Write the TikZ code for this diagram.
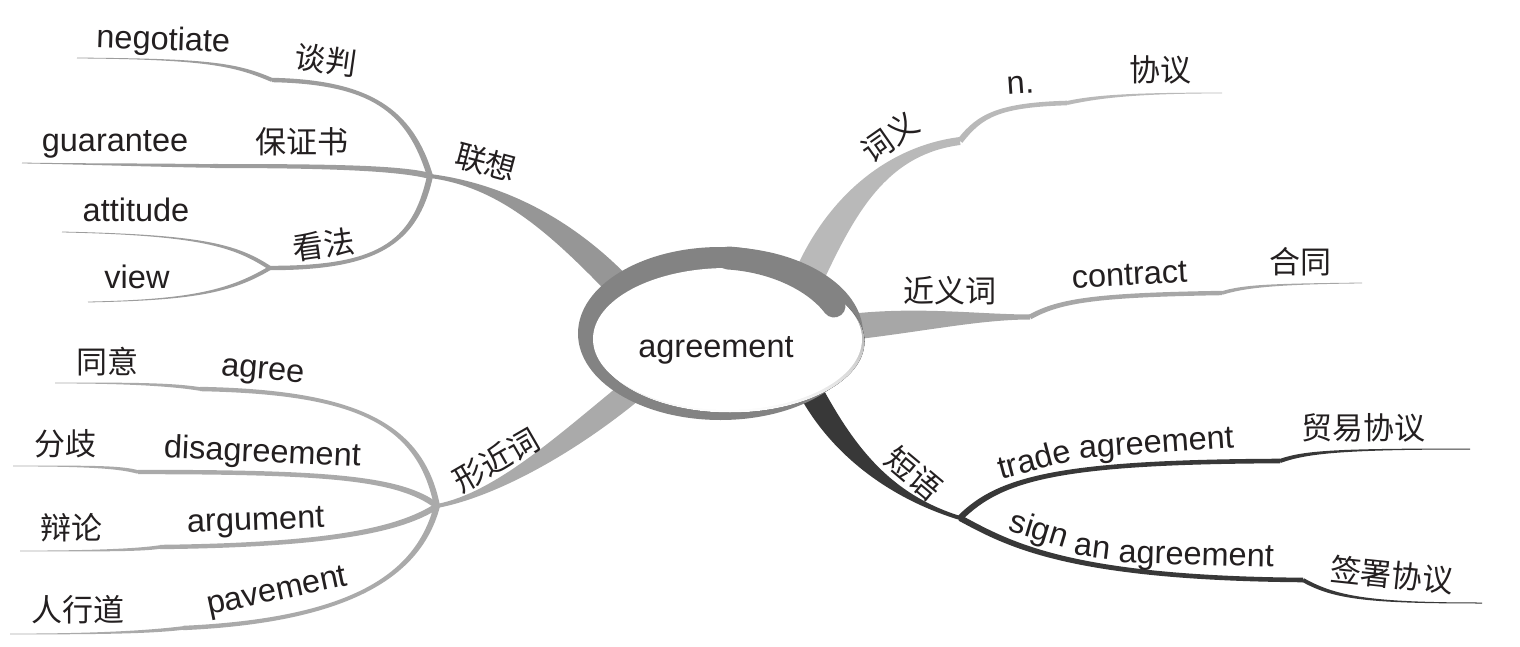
\documentclass[tikz,border=0pt]{standalone}
\usepackage{fontspec}
\setmainfont{Liberation Sans}
\newfontfamily\cjk{Noto Sans CJK SC}
\usetikzlibrary{calc}
\definecolor{txt}{HTML}{231F20}
\definecolor{ring}{HTML}{838383}
\definecolor{lxc}{HTML}{9D9D9D}
\definecolor{lxt}{HTML}{969696}
\definecolor{xjc}{HTML}{AAAAAA}
\definecolor{cyc}{HTML}{B9B9B9}
\definecolor{jyc}{HTML}{A7A7A7}
\definecolor{dyc}{HTML}{383838}
\definecolor{shade}{HTML}{C4C4C4}
\newcommand\tfont{\fontsize{32.5}{34}\selectfont}
% tapered cubic: P0, P1, P2, P3, half width at P0, half width at P3, colour
\newcommand\tap[7]{%
  \fill[#7] ($(#1)!#5!90:(#2)$) .. controls ($(#2)!#5!-90:(#1)$) and ($(#3)!#6!90:(#4)$) .. ($(#4)!#6!-90:(#3)$)
    -- ($(#4)!#6!90:(#3)$) .. controls ($(#3)!#6!-90:(#4)$) and ($(#2)!#5!90:(#1)$) .. ($(#1)!#5!-90:(#2)$) -- cycle;}
\begin{document}
\begin{tikzpicture}[x=1pt,y=-1pt,
  en/.style={font=\tfont, text=txt, inner sep=0pt, anchor=base},
  zh/.style={font=\cjk\fontsize{31}{33}\selectfont, text=txt, inner sep=0pt}]
\useasboundingbox (0,0) rectangle (1520,647);
% junctions and kinks
\coordinate (J1) at (430,176);
\coordinate (J2) at (437,506);
\coordinate (J3) at (960,518);
\coordinate (K1) at (272,80);
\coordinate (K2) at (213,166);
\coordinate (K3) at (270,268);
\coordinate (K4) at (200,389);
\coordinate (K5) at (138,472);
\coordinate (K6) at (160,547);
\coordinate (K7) at (183,628);
\coordinate (M1) at (960,141);
\coordinate (M2) at (1067,103);
\coordinate (M3) at (1030,317);
\coordinate (M4) at (1222,293);
\coordinate (M5) at (1280,461);
\coordinate (M6) at (1303,580);
% 联想
\tap{J1}{500,185}{560,225}{620,287}{2pt}{13pt}{lxt}
\tap{J1}{410,110}{370,82}{K1}{3pt}{2.2pt}{lxc}
\tap{K1}{235,64}{205,59}{77,58}{2pt}{0.4pt}{lxc}
\tap{J1}{400,168}{330,166}{K2}{3pt}{2pt}{lxc}
\tap{K2}{150,165}{80,164}{22,163}{1.8pt}{0.4pt}{lxc}
\tap{J1}{415,245}{375,268}{K3}{3pt}{2.2pt}{lxc}
\tap{K3}{235,245}{200,235}{62,232}{2pt}{0.4pt}{lxc}
\tap{K3}{230,292}{190,300}{88,302}{2pt}{0.4pt}{lxc}
% 形近词
\tap{J2}{495,495}{565,445}{630,392}{2pt}{12pt}{xjc}
\tap{J2}{420,420}{350,392}{K4}{3pt}{2.2pt}{xjc}
\tap{K4}{170,384}{120,383}{55,383}{1.8pt}{0.4pt}{xjc}
\tap{J2}{400,478}{330,472}{K5}{3pt}{2.2pt}{xjc}
\tap{K5}{120,467}{90,466}{13,466}{1.8pt}{0.4pt}{xjc}
\tap{J2}{400,530}{330,545}{K6}{3pt}{2.2pt}{xjc}
\tap{K6}{140,550}{100,551}{20,551}{1.8pt}{0.4pt}{xjc}
\tap{J2}{420,570}{360,620}{K7}{3pt}{2.2pt}{xjc}
\tap{K7}{150,632}{100,634}{10,634}{1.8pt}{0.4pt}{xjc}
% 词义
\tap{812,270}{845,200}{890,150}{M1}{15pt}{4pt}{cyc}
\tap{M1}{980,115}{1000,105}{M2}{3pt}{2.3pt}{cyc}
\tap{M2}{1095,97}{1130,93}{1222,93}{2pt}{0.4pt}{cyc}
% 近义词
\tap{850,327}{920,319}{980,317}{M3}{13pt}{2.5pt}{jyc}
\tap{M3}{1060,300}{1100,295}{M4}{2.5pt}{2.2pt}{jyc}
\tap{M4}{1245,286}{1275,284}{1362,283}{1.8pt}{0.4pt}{jyc}
% 短语
\tap{810,390}{840,445}{885,495}{J3}{12pt}{2pt}{dyc}
\tap{J3}{1000,478}{1060,462}{M5}{3pt}{2.3pt}{dyc}
\tap{M5}{1305,452}{1340,449}{1470,449}{2pt}{0.5pt}{dyc}
\tap{J3}{1010,545}{1070,578}{M6}{3pt}{2.3pt}{dyc}
\tap{M6}{1335,598}{1370,603}{1482,603}{2pt}{0.5pt}{dyc}
% central ellipse
\fill[ring] (720.5,333.5) ellipse [x radius=142.5pt, y radius=86.5pt];
\fill[shade] (730,341.5) ellipse [x radius=134.5pt, y radius=71pt];
\fill[white] (727.5,339) ellipse [x radius=134.5pt, y radius=71pt];
\draw[ring, line width=23pt, line cap=round] (728,258) .. controls (775,261) and (815,281) .. (834,306);
\node[en] (ctr) at (716,357) {agreement};
% left upper texts
\node[en, rotate=-2] (t1) at (163,50) {negotiate};
\node[zh, rotate=-8] (t2) at (326,60) {谈判};
\node[en] (t3) at (115,152) {guarantee};
\node[zh] (t4) at (302,142) {保证书};
\node[zh, rotate=-15] (t5) at (486,162) {联想};
\node[en] (t6) at (136,222) {attitude};
\node[zh, rotate=8] (t7) at (324,245) {看法};
\node[en] (t8) at (137,288) {view};
% left lower texts
\node[zh] (t9) at (107,362) {同意};
\node[en, rotate=-5] (t10) at (262,379) {agree};
\node[zh] (t11) at (65,444) {分歧};
\node[en, rotate=-2.5] (t12) at (262,462) {disagreement};
\node[zh] (t13) at (71,528) {辩论};
\node[en, rotate=2] (t14) at (256,530) {argument};
\node[zh] (t15) at (78,610) {人行道};
\node[en, rotate=12] (t16) at (279,600) {pavement};
\node[zh, rotate=30] (t17) at (496,460) {形近词};
% right texts
\node[zh, rotate=35] (t18) at (890,137) {词义};
\node[en, rotate=4] (t19) at (1021,94) {n.};
\node[zh] (t20) at (1160,70) {协议};
\node[zh] (t21) at (950,291) {近义词};
\node[en, rotate=3] (t22) at (1130,285) {contract};
\node[zh] (t23) at (1300,262) {合同};
\node[zh, rotate=-40] (t24) at (914,473) {短语};
\node[en, rotate=15] (t27) at (1037,470) {trade};
\node[en, rotate=4] (t28) at (1157,453) {agreement};
\node[zh] (t25) at (1363,428) {贸易协议};
\node[en, rotate=-17] (t29) at (1036,539) {sign};
\node[en, rotate=-7] (t30) at (1091,557) {an};
\node[en, rotate=-1.5] (t31) at (1196,565) {agreement};
\node[zh, rotate=-6] (t26) at (1392,575) {签署协议};
\end{tikzpicture}
\end{document}
